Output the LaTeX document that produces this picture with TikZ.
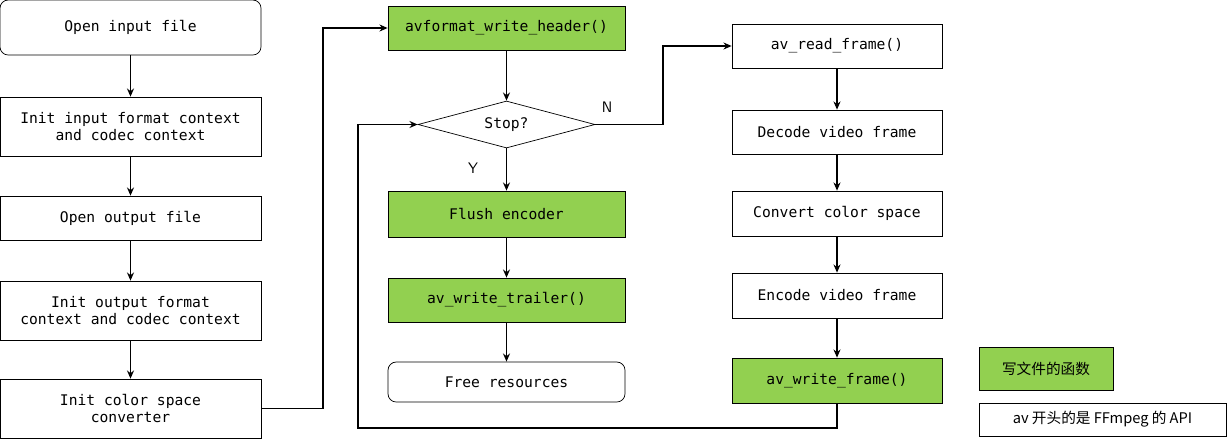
\documentclass[tikz,border=0pt]{standalone}
\usepackage{fontspec}
\setmonofont{DejaVu Sans Mono}
\newfontfamily\cjk{Noto Sans CJK SC}
\usetikzlibrary{shapes.geometric,arrows.meta}
\definecolor{grn}{RGB}{146,208,80}
\begin{document}
\begin{tikzpicture}[x=0.03cm,y=-0.03cm,
  txt/.style={font=\ttfamily\fontsize{12.5}{15}\selectfont,align=center,inner sep=0},
  box/.style={txt,draw,line width=0.6pt,minimum height=#1*0.03cm},
  L/.style={box=#1,minimum width=261*0.03cm},
  M/.style={box=#1,minimum width=237*0.03cm},
  R/.style={box=#1,minimum width=210*0.03cm},
  g/.style={fill=grn},
  rnd/.style={rounded corners=7pt},
  conn/.style={line width=1.6pt,-{Stealth[length=7pt,width=6pt]}}]
\useasboundingbox (0,0) rectangle (1228,442);
\node[L=55,rnd] (a1) at (130.5,27.5) {Open input file};
\node[L=59] (a2) at (130.5,126.5) {Init input format context\\and codec context};
\node[L=44] (a3) at (130.5,218) {Open output file};
\node[L=59] (a4) at (130.5,310.5) {Init output format\\context and codec context};
\node[L=59] (a5) at (130.5,408.5) {Init color space\\converter};
\node[M=44,g] (b1) at (506.5,28) {avformat\_write\_header()};
\node[txt,draw,line width=0.6pt,diamond,aspect=3.75,minimum width=177*0.03cm,minimum height=47*0.03cm,inner sep=0] (b2) at (506.5,124.5) {Stop?};
\node[M=46,g] (b3) at (506.5,214) {Flush encoder};
\node[M=44,g] (b4) at (506.5,300) {av\_write\_trailer()};
\node[M=40,rnd] (b5) at (506.5,382) {Free resources};
\node[R=44] (c1) at (837,46) {av\_read\_frame()};
\node[R=44] (c2) at (837,132) {Decode video frame};
\node[R=45] (c3) at (837,213.5) {Convert color space};
\node[R=45] (c4) at (837,295.5) {Encode video frame};
\node[R=45,g] (c5) at (837,380.5) {av\_write\_frame()};
\node[draw,line width=0.6pt,fill=grn,minimum width=134*0.03cm,minimum height=43*0.03cm,font=\cjk\fontsize{12.5}{15}\selectfont] (l1) at (1046,368.5) {写文件的函数};
\node[draw,line width=0.6pt,minimum width=247*0.03cm,minimum height=33*0.03cm,font=\cjk\fontsize{12.5}{15}\selectfont] (l2) at (1102.5,419.5) {av 开头的是 FFmpeg 的 API};
\node[font=\sffamily\fontsize{13}{15}\selectfont] (N) at (607,107) {N};
\node[font=\sffamily\fontsize{13}{15}\selectfont] (Y) at (473,168) {Y};
\coordinate (p1) at (323,408.5);
\coordinate (p2) at (323,28);
\coordinate (q1) at (663,124.5);
\coordinate (q2) at (663,46);
\coordinate (r1) at (837,428);
\coordinate (r2) at (358,428);
\coordinate (r3) at (358,124.5);
\draw[conn] (a1) -- (a2);
\draw[conn] (a2) -- (a3);
\draw[conn] (a3) -- (a4);
\draw[conn] (a4) -- (a5);
\draw[conn] (a5.east) -- (p1) -- (p2) -- (b1.west);
\draw[conn] (b1) -- (b2);
\draw[conn] (b2) -- (b3);
\draw[conn] (b3) -- (b4);
\draw[conn] (b4) -- (b5);
\draw[conn] (b2.east) -- (q1) -- (q2) -- (c1.west);
\draw[conn] (c1) -- (c2);
\draw[conn] (c2) -- (c3);
\draw[conn] (c3) -- (c4);
\draw[conn] (c4) -- (c5);
\draw[conn] (c5.south) -- (r1) -- (r2) -- (r3) -- (b2.west);
\end{tikzpicture}
\end{document}
